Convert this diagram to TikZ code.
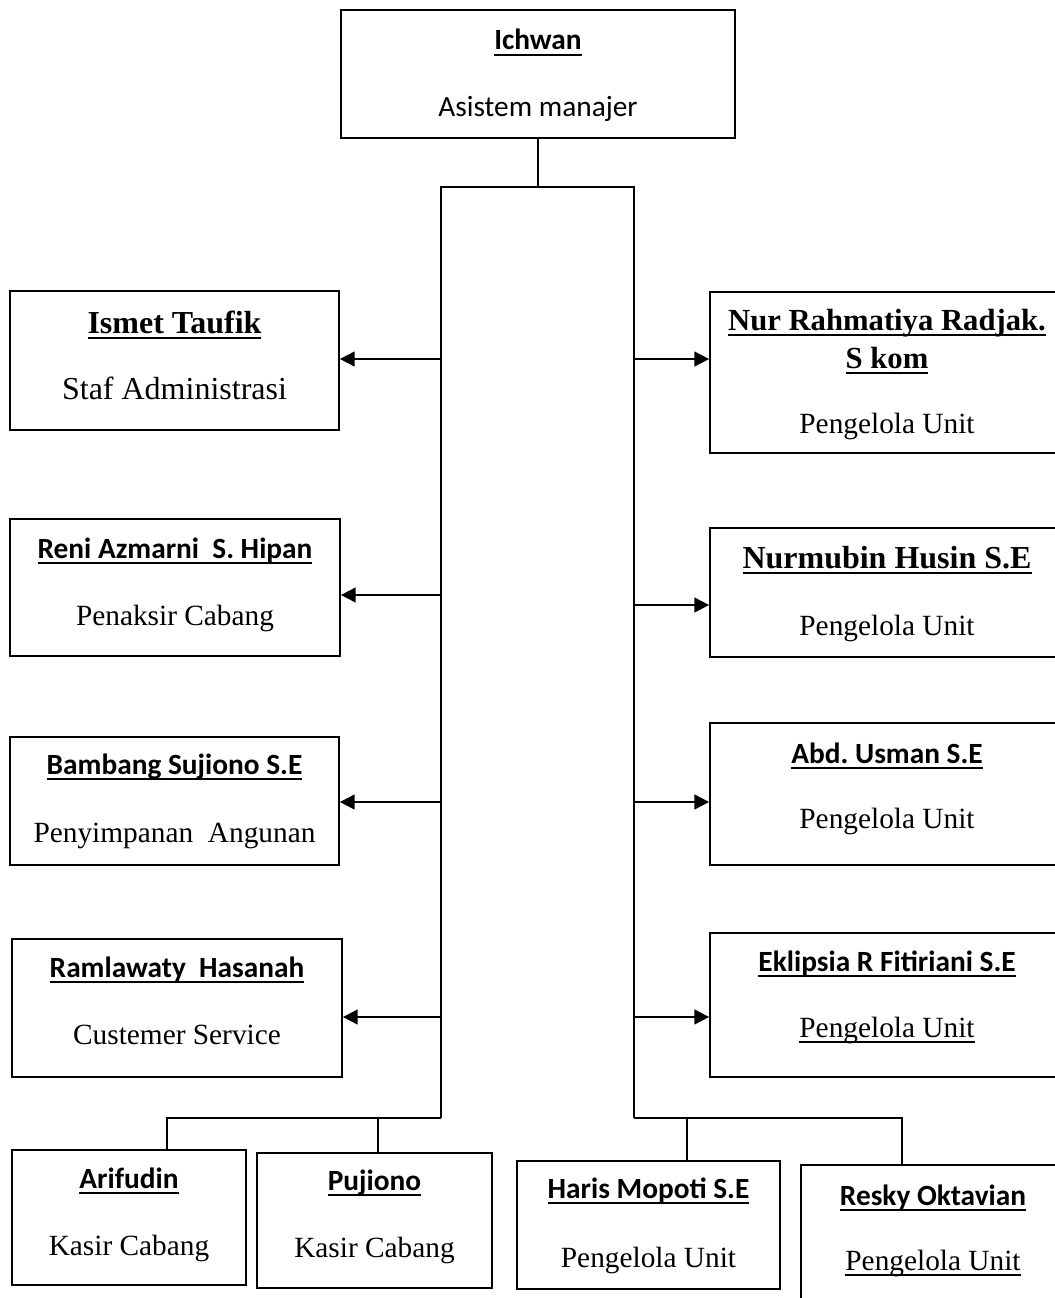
\documentclass[tikz,border=0pt]{standalone}
\usepackage{fontspec}
\setmainfont{Liberation Serif}
\newfontfamily\calib{Carlito}
\usepackage{tikz}
\usetikzlibrary{fit,arrows.meta}
\newcommand{\nameline}[1]{\setbox0\hbox{#1}\rlap{\rule[-4.2pt]{\wd0}{1.4pt}}\box0}
\tikzset{
  box/.style={draw=black, line width=1.3pt, inner sep=0pt},
  link/.style={draw=black, line width=1.4pt},
  arr/.style={link, -{Triangle[length=11pt,width=11pt]}},
  namesf/.style={anchor=base, font=\fontsize{22}{26}\selectfont\calib\bfseries},
  namerm/.style={anchor=base, font=\fontsize{24}{28.5}\selectfont\bfseries},
  role/.style={anchor=base, font=\fontsize{22}{26}\selectfont},
  rolesf/.style={anchor=base, font=\fontsize{22}{26}\selectfont\calib}
}
\begin{document}
\begin{tikzpicture}[x=0.75pt, y=-0.75pt]
  \useasboundingbox (0,0) rectangle (1055,1298);
  \clip (0,0) rectangle (1055,1298);

  % boxes
  \node[box, fit={(341,10) (735,138)}] (asman) {};
  \node[box, fit={(10,291) (339,430)}] (ismet) {};
  \node[box, fit={(10,519) (340,656)}] (reni) {};
  \node[box, fit={(10,737) (339,865)}] (bambang) {};
  \node[box, fit={(12,939) (342,1077)}] (ramla) {};
  \node[box, fit={(710,292) (1064,453)}] (nur) {};
  \node[box, fit={(710,528) (1064,657)}] (nurmubin) {};
  \node[box, fit={(710,723) (1064,865)}] (abd) {};
  \node[box, fit={(710,933) (1064,1077)}] (eklipsia) {};
  \node[box, fit={(12,1150) (246,1285)}] (arifudin) {};
  \node[box, fit={(257,1153) (492,1288)}] (pujiono) {};
  \node[box, fit={(517,1161) (780,1289)}] (haris) {};
  \node[box, fit={(801,1165) (1064,1310)}] (resky) {};

  % texts
  \node[namesf] (asman-n) at (asman |- 0,50) {\nameline{Ichwan}};
  \node[rolesf] (asman-r) at (asman |- 0,117) {Asistem manajer};
  \node[namerm] (ismet-n) at (ismet |- 0,333) {\nameline{Ismet Taufik}};
  \node[role, font=\fontsize{24}{28}\selectfont] (ismet-r) at (ismet |- 0,399) {Staf Administrasi};
  \node[namesf] (reni-n) at (reni |- 0,558) {\nameline{Reni Azmarni\ \ S. Hipan}};
  \node[role] (reni-r) at (reni |- 0,625) {Penaksir Cabang};
  \node[namesf] (bambang-n) at (bambang |- 0,774) {\nameline{Bambang Sujiono S.E}};
  \node[role] (bambang-r) at (bambang |- 0,842) {Penyimpanan\ \ Angunan};
  \node[namesf] (ramla-n) at (ramla |- 0,977) {\nameline{Ramlawaty\ \ Hasanah}};
  \node[role] (ramla-r) at (ramla |- 0,1044) {Custemer Service};
  \node[namerm, font=\fontsize{23}{28}\selectfont\bfseries] (nur-n) at (nur |- 0,330) {\nameline{Nur Rahmatiya Radjak.}};
  \node[namerm, font=\fontsize{23}{28}\selectfont\bfseries] (nur-n2) at (nur |- 0,368) {\nameline{S kom}};
  \node[role] (nur-r) at (nur |- 0,433) {Pengelola Unit};
  \node[namerm] (nurmubin-n) at (nurmubin |- 0,568) {\nameline{Nurmubin Husin S.E}};
  \node[role] (nurmubin-r) at (nurmubin |- 0,635) {Pengelola Unit};
  \node[namesf] (abd-n) at (abd |- 0,763) {\nameline{Abd.\ Usman S.E}};
  \node[role] (abd-r) at (abd |- 0,828) {Pengelola Unit};
  \node[namesf] (eklipsia-n) at (eklipsia |- 0,971) {\nameline{Eklipsia R Fitiriani S.E}};
  \node[role] (eklipsia-r) at (eklipsia |- 0,1037) {\nameline{Pengelola Unit}};
  \node[namesf] (arifudin-n) at (arifudin |- 0,1188) {\nameline{Arifudin}};
  \node[role] (arifudin-r) at (arifudin |- 0,1255) {Kasir Cabang};
  \node[namesf] (pujiono-n) at (pujiono |- 0,1190) {\nameline{Pujiono}};
  \node[role] (pujiono-r) at (pujiono |- 0,1257) {Kasir Cabang};
  \node[namesf] (haris-n) at (haris |- 0,1198) {\nameline{Haris Mopoti S.E}};
  \node[role] (haris-r) at (haris |- 0,1267) {Pengelola Unit};
  \node[namesf] (resky-n) at (933,1205) {\nameline{Resky Oktavian}};
  \node[role] (resky-r) at (933,1270) {\nameline{Pengelola Unit}};

  % trunk lines
  \coordinate (ltop) at (441,187);
  \coordinate (rtop) at (634,187);
  \coordinate (lbot) at (441,1118);
  \coordinate (rbot) at (634,1118);
  \draw[link] (asman.south) -- (asman.south |- ltop);
  \draw[link] (lbot) -- (ltop) -- (rtop) -- (rbot);

  \foreach \y/\b in {359/ismet, 595/reni, 802/bambang, 1017/ramla}{
    \coordinate (t-\b) at (ltop |- 0,\y);
    \draw[arr] (t-\b) -- (t-\b -| \b.east);
  }
  \foreach \y/\b in {359/nur, 605/nurmubin, 802/abd, 1017/eklipsia}{
    \coordinate (t-\b) at (rtop |- 0,\y);
    \draw[arr] (t-\b) -- (t-\b -| \b.west);
  }

  % bottom row
  \coordinate (a-top) at (167,1118);
  \coordinate (p-top) at (378,1118);
  \coordinate (h-top) at (687,1118);
  \coordinate (r-top) at (902,1118);
  \draw[link] (lbot) -- (a-top) -- (a-top |- arifudin.north);
  \draw[link] (p-top) -- (p-top |- pujiono.north);
  \draw[link] (rbot) -- (r-top) -- (r-top |- resky.north);
  \draw[link] (h-top) -- (h-top |- haris.north);
\end{tikzpicture}
\end{document}
